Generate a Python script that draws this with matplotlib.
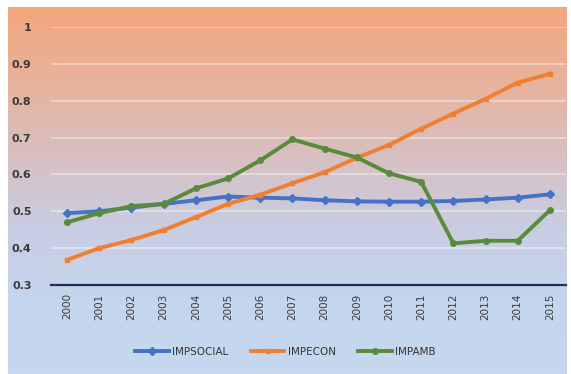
import numpy as np
import matplotlib
matplotlib.use("Agg")
import matplotlib.pyplot as plt
from matplotlib.colors import LinearSegmentedColormap


years = [str(y) for y in range(2000, 2016)]
impsocial = [0.495, 0.50, 0.51, 0.52, 0.53, 0.54, 0.537, 0.535, 0.53, 0.527,
             0.526, 0.526, 0.528, 0.532, 0.537, 0.546]
impecon = [0.368, 0.40, 0.422, 0.449, 0.484, 0.52, 0.545, 0.576, 0.606, 0.645,
           0.68, 0.724, 0.765, 0.805, 0.849, 0.873]
impamb = [0.47, 0.495, 0.514, 0.52, 0.562, 0.589, 0.638, 0.695, 0.67, 0.646,
          0.603, 0.58, 0.413, 0.42, 0.42, 0.503]
yticks = [0.3, 0.4, 0.5, 0.6, 0.7, 0.8, 0.9, 1.0]
ytick_labels = ["0.3", "0.4", "0.5", "0.6", "0.7", "0.8", "0.9", "1"]

W, H = 571, 374
fig = plt.figure(figsize=(W / 100, H / 100), dpi=100)
fig.patch.set_facecolor("white")

# gradient panel behind the chart (orange at top to light blue at bottom)
bg = fig.add_axes([8 / W, 0, 559 / W, 367 / H])
grad_cmap = LinearSegmentedColormap.from_list(
    "bg", ["#f3a77c", "#e8b29c", "#d8bfc0", "#c9cde2", "#c4d5ee", "#c6d8f0"]
)
bg.imshow(np.linspace(0, 1, 256).reshape(-1, 1), aspect="auto", cmap=grad_cmap,
          extent=[0, 1, 0, 1])
bg.set_axis_off()

ax = fig.add_axes([51 / W, 1 - 285 / H, 515 / W, 258 / H])
ax.patch.set_alpha(0)
x = np.arange(len(years))

ax.plot(x, impsocial, color="#4472c4", lw=2.8, marker="D", ms=4, label="IMPSOCIAL", zorder=3)
ax.plot(x, impecon, color="#f08030", lw=2.8, marker="s", ms=3.5, label="IMPECON", zorder=3)
ax.plot(x, impamb, color="#5a8a3c", lw=2.8, marker="o", ms=4, label="IMPAMB", zorder=4)

ax.set_xlim(-0.5, len(years) - 0.5)
ax.set_ylim(0.3, 1.0)
ax.set_yticks(yticks)
ax.set_yticklabels(ytick_labels, fontweight="bold")
ax.set_xticks(x)
ax.set_xticklabels(years, rotation=90)
ax.tick_params(axis="both", length=0, labelsize=8, colors="#3a3a3a")
ax.tick_params(axis="y", pad=14)
ax.tick_params(axis="x", pad=6, labelsize=7.5)
ax.grid(axis="y", color="white", lw=1.2, alpha=0.45)
ax.set_axisbelow(True)
for side in ["top", "right", "left"]:
    ax.spines[side].set_visible(False)
ax.spines["bottom"].set_color("#1f2f55")
ax.spines["bottom"].set_linewidth(1.6)
ax.spines["bottom"].set_zorder(5)

fig.legend(loc="center", bbox_to_anchor=(0.5, 1 - 352 / H), ncol=3, frameon=False,
           fontsize=7.5, handlelength=3.2, columnspacing=2.2, handletextpad=0.3,
           labelcolor="#333333")

fig.savefig("out.png", dpi=100)
